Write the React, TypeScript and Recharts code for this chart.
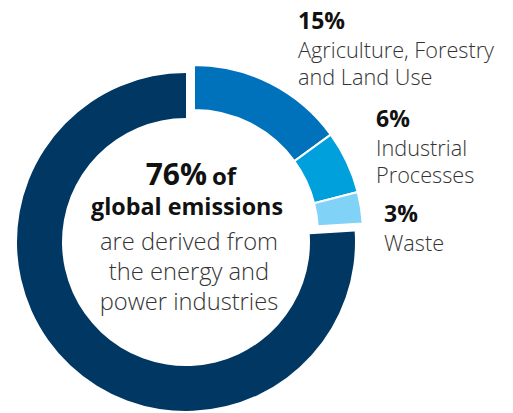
import React from 'react';
import { PieChart, Pie, Cell } from 'recharts';

// data
const categories = ['Agriculture, Forestry and Land Use', 'Industrial Processes', 'Waste', 'Energy and Power'];
const shares = [15, 6, 3, 76];
const colors = ['#0072bc', '#00a0dc', '#80d3f6', '#013763'];
const isHighlight = [true, true, true, false];

const labelLines = [['Agriculture, Forestry', 'and Land Use'], ['Industrial', 'Processes'], ['Waste']];
const centerBold = ['76%', 'of', 'global emissions'];
const centerLight = ['are derived from', 'the energy and', 'power industries'];

const FONT = '"Open Sans", "Noto Sans", sans-serif';

const pieData = categories.map((name, i) => ({ name, value: shares[i] }));

// label anchors (text placement only)
const labelPos = [
  { x: 298, y: 29 },
  { x: 376, y: 127 },
  { x: 384, y: 222 },
];

export default function App() {
  return (
    <div style={{ position: 'absolute', left: 0, top: 0, width: 513, height: 413, background: '#fff' }}>
      <PieChart width={513} height={413} margin={{ top: 0, right: 0, bottom: 0, left: 0 }}>
        {/* main ring - the 76% part */}
        <Pie
          data={pieData}
          dataKey="value"
          cx={186}
          cy={242}
          innerRadius={124}
          outerRadius={169}
          startAngle={90}
          endAngle={-270}
          isAnimationActive={false}
          stroke="none"
        >
          {pieData.map((d, i) => (
            <Cell key={d.name} fill={isHighlight[i] ? 'none' : colors[i]} stroke="none" />
          ))}
        </Pie>
        {/* pulled-out part - the other sectors */}
        <Pie
          data={pieData}
          dataKey="value"
          cx={194}
          cy={234}
          innerRadius={124}
          outerRadius={169}
          startAngle={90}
          endAngle={-270}
          isAnimationActive={false}
        >
          {pieData.map((d, i) => (
            <Cell
              key={d.name}
              fill={isHighlight[i] ? colors[i] : 'none'}
              stroke={isHighlight[i] ? '#fff' : 'none'}
              strokeWidth={2}
            />
          ))}
        </Pie>
      </PieChart>
      <svg width={513} height={413} style={{ position: 'absolute', left: 0, top: 0, pointerEvents: 'none' }}>
        {labelPos.map((p, i) => (
          <g key={i} fontFamily={FONT}>
            <text x={p.x} y={p.y} fontSize={23} fontWeight={700} fill="#111">
              {shares[i]}%
            </text>
            {labelLines[i].map((line, j) => (
              <text key={j} x={p.x} y={p.y + 29 + j * 27} fontSize={21.7} fontWeight={300} fill="#333">
                {line}
              </text>
            ))}
          </g>
        ))}
        <g fontFamily={FONT}>
          <text x={207} y={185} fontSize={30} fontWeight={700} fill="#111" textAnchor="end">
            {centerBold[0]}
          </text>
          <text x={212} y={185} fontSize={24} fontWeight={700} fill="#111">
            {centerBold[1]}
          </text>
          <text x={187} y={215} fontSize={23.3} fontWeight={700} fill="#111" textAnchor="middle">
            {centerBold[2]}
          </text>
          {centerLight.map((line, j) => (
            <text key={j} x={189} y={250 + j * 30} fontSize={23.7} fontWeight={300} fill="#333" textAnchor="middle">
              {line}
            </text>
          ))}
        </g>
      </svg>
    </div>
  );
}
